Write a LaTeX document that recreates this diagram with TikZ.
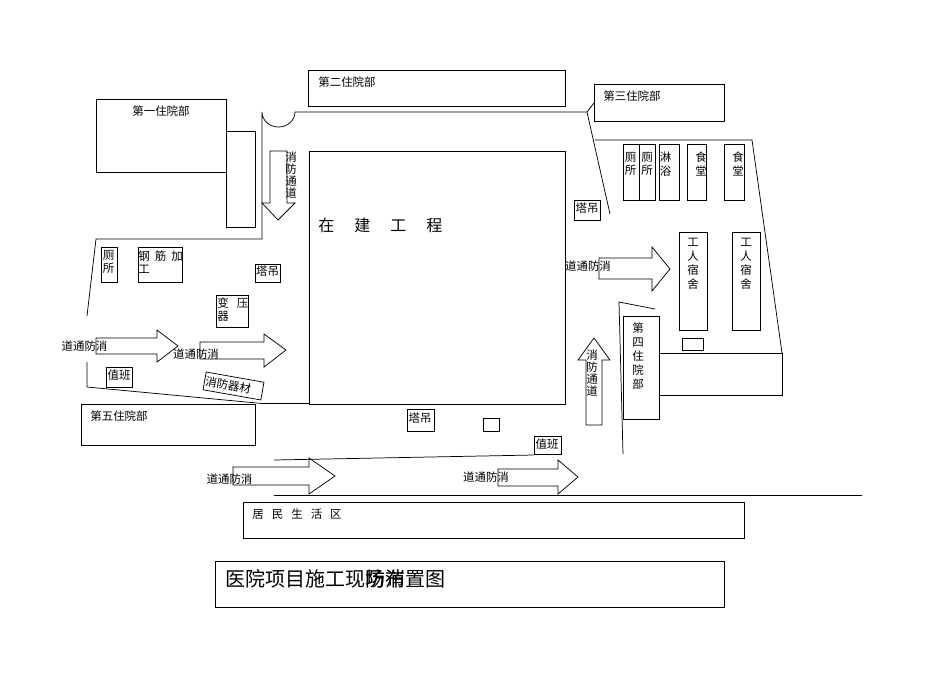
\documentclass[tikz,border=0pt]{standalone}
\usepackage{fontspec}
\usepackage{tikz}
\setmainfont{Noto Sans CJK SC}

\begin{document}
\begin{tikzpicture}[x=0.75pt, y=-0.75pt, line width=0.55pt,
  lbl/.style={inner sep=0pt, font=\fontsize{8.6}{9}\selectfont, align=center},
  lblbig/.style={inner sep=0pt, anchor=west, font=\fontsize{12}{14}\selectfont},
  lbltitle/.style={inner sep=0pt, anchor=west, font=\fontsize{15}{18}\selectfont}]
  \useasboundingbox (0,0) rectangle (950,672);

  % wings of the hospital
  \draw (96,99) rectangle (226,172);
  \draw (226,131) rectangle (255,227);
  \draw (308.5,70) rectangle (565,106);
  \draw (594,84) rectangle (724,121);
  \draw (623,316) rectangle (659,419);
  \draw (659,353) rectangle (782,395);
  \draw (81,404) rectangle (255,445);
  \node[lbl] (A) at (161,111) {第一住院部};
  \node[lbl] (B) at (347,82) {第二住院部};
  \node[lbl] (C) at (632,96) {第三住院部};
  \node[lbl] (D) at (638,356) {第\\[1.5pt]四\\[1.5pt]住\\[1.5pt]院\\[1.5pt]部};
  \node[lbl] (E) at (119,416) {第五住院部};

  % walls
  \draw (87,316) -- (96,239) -- (262,239) -- (262,112)
    arc [start angle=180, end angle=0, x radius=16.5, y radius=15]
    -- (587,112) -- (610,214);
  \draw (587,112) -- (594,103);
  \draw (595,140) -- (752,140) -- (782,353);
  \draw (87,362) -- (87,387) -- (262,403.5) -- (309,403.5);
  \draw (655,309) -- (619,302) -- (623,454);
  \draw (274,460) -- (534,455);
  \draw (274,495) -- (862,495);

  % site
  \draw (309,151) rectangle (565,404);
  \node[lblbig] (F) at (318,225) {在\hspace{15pt}建\hspace{15pt}工\hspace{15pt}程};

  % huts on the left
  \draw (101,247) rectangle (117,282);
  \node[lbl] (G) at (108.5,262) {厕\\[1pt]所};
  \draw (138,247) rectangle (182,282);
  \node[lbl, align=left, anchor=north west] (H) at (138,250) {钢\hspace{3.75pt}筋\hspace{3.75pt}加\\[1pt]工};
  \draw (255,264) rectangle (280,282);
  \node[lbl] (I) at (267.5,271) {塔吊};
  \draw (216,295) rectangle (248,327);
  \node[lbl, align=left, anchor=north west] (J) at (217,297) {变\hspace{6pt}压\\[1pt]器};
  \draw (106,367) rectangle (132,387);
  \node[lbl] (K) at (119,375) {值班};
  \node[lbl, draw, rotate=-10, minimum width=44pt, minimum height=13.5pt] (L) at (233.5,386) {消防器材\hspace*{8pt}};

  % huts on the right
  \draw (574,200) rectangle (600,220);
  \node[lbl] (M) at (587,208) {塔吊};
  \draw (623,144) rectangle (639,200);
  \draw (639,144) rectangle (655,200);
  \draw (659,144) rectangle (679,200);
  \draw (687,144) rectangle (706,200);
  \draw (724,144) rectangle (744,200);
  \node[lbl] (N) at (630.5,164) {厕\\[1pt]所};
  \node[lbl] (O) at (647,164) {厕\\[1pt]所};
  \node[lbl] (P) at (665.5,164) {淋\\[1pt]浴};
  \node[lbl] (Q) at (701,164) {食\\[1pt]堂};
  \node[lbl] (R) at (738,164) {食\\[1pt]堂};
  \draw (679,232) rectangle (707,330);
  \draw (732,232) rectangle (760,330);
  \node[lbl] (S) at (693,264) {工\\[1.5pt]人\\[1.5pt]宿\\[1.5pt]舍};
  \node[lbl] (T) at (746,264) {工\\[1.5pt]人\\[1.5pt]宿\\[1.5pt]舍};
  \draw (682,338) rectangle (703,350);

  % huts at the bottom
  \draw (407,409) rectangle (434,431);
  \node[lbl] (U) at (420,418) {塔吊};
  \draw (483,418) rectangle (499,431);
  \draw (534,436) rectangle (561,454);
  \node[lbl] (V) at (547,444) {值班};

  % fire lanes
  \draw (270,151) -- (287,151) -- (287,203) -- (295,203) -- (278,220) -- (262,203) -- (270,203) -- cycle;
  \node[lbl] (W) at (291,175) {消\\防\\通\\道};
  \draw (586,425) -- (602,425) -- (602,360) -- (610,360) -- (594,338) -- (578,360) -- (586,360) -- cycle;
  \node[lbl] (X) at (592,373) {消\\防\\通\\道};

  \draw (96,338) -- (157,338) -- (157,330) -- (178,346) -- (157,362) -- (157,354) -- (96,354) -- cycle;
  \node[lbl] (Y1) at (84.5,346) {道通防消};
  \draw (200,342) -- (264,342) -- (264,334) -- (286,350) -- (264,367) -- (264,359) -- (200,359) -- cycle;
  \node[lbl] (Y2) at (196,354) {道通防消};
  \draw (599,258) -- (652,258) -- (652,247) -- (670,269) -- (652,291) -- (652,279) -- (599,279) -- cycle;
  \node[lbl] (Y3) at (588,266) {道通防消};
  \draw (233,467) -- (309,467) -- (309,458) -- (335,476) -- (309,494) -- (309,485) -- (233,485) -- cycle;
  \node[lbl] (Y4) at (229.5,479) {道通防消};
  \draw (498,469) -- (558,469) -- (558,460) -- (578,477) -- (558,494) -- (558,486) -- (498,486) -- cycle;
  \node[lbl] (Y5) at (486,477) {道通防消};

  % residents and title
  \draw (243,502) rectangle (744,538);
  \node[lbl, anchor=west] (Z1) at (252,514) {居\hspace{6pt}民\hspace{6pt}生\hspace{6pt}活\hspace{6pt}区};
  \draw (215,561) rectangle (724,607);
  \node[lbltitle] (Z2) at (225,579) {医院项目施工现场布置图};
  \node[lbltitle] (Z3) at (365,579) {防消};
\end{tikzpicture}
\end{document}
